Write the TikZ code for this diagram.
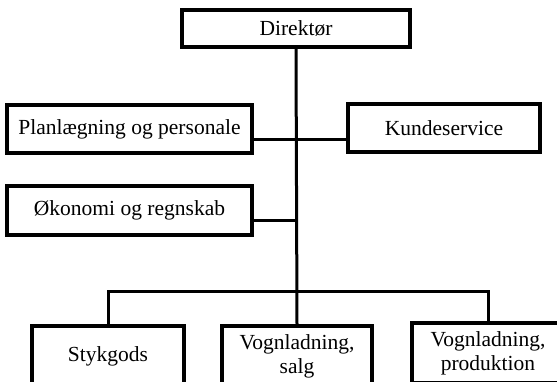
\documentclass[tikz,border=0pt]{standalone}
\usepackage{fontspec}
\setmainfont{Liberation Serif}

\begin{document}
\begin{tikzpicture}[x=1pt,y=-1pt,
    box/.style={draw,line width=3.4pt,inner sep=0pt,align=center,
      font=\fontsize{21.5}{24}\selectfont},
    link/.style={line width=3pt}]
    \clip (0,0) rectangle (557,382);

    \node[box,minimum width=228,minimum height=37] (dir) at (296,28.5) {Direktør};

    \node[box,minimum width=245,minimum height=48] (plan) at (129.5,129) {Planlægning og personale};
    \node[box,minimum width=192,minimum height=48] (kunde) at (444,128) {Kundeservice};
    \node[box,minimum width=245,minimum height=49] (okon) at (129.5,210.5) {Økonomi og regnskab};

    \node[box,minimum width=152,minimum height=60] (styk) at (108,356) {Stykgods};
    \node[box,minimum width=150,minimum height=60] (salg) at (297,356) {Vognladning,\\salg};
    \node[box,minimum width=152,minimum height=60] (prod) at (488,353) {Vognladning,\\produktion};

    \coordinate (j1) at (297,140);
    \coordinate (j2) at (297,221);
    \coordinate (bus) at (297,291);

    \draw[link] (dir.south) -- (salg.north);
    \draw[link] (plan.east|-j1) -- (kunde.west|-j1);
    \draw[link] (okon.east|-j2) -- (j2);
    \draw[link] (styk.north) -- (styk.north|-bus) -- (prod.north|-bus) -- (prod.north);
\end{tikzpicture}
\end{document}
